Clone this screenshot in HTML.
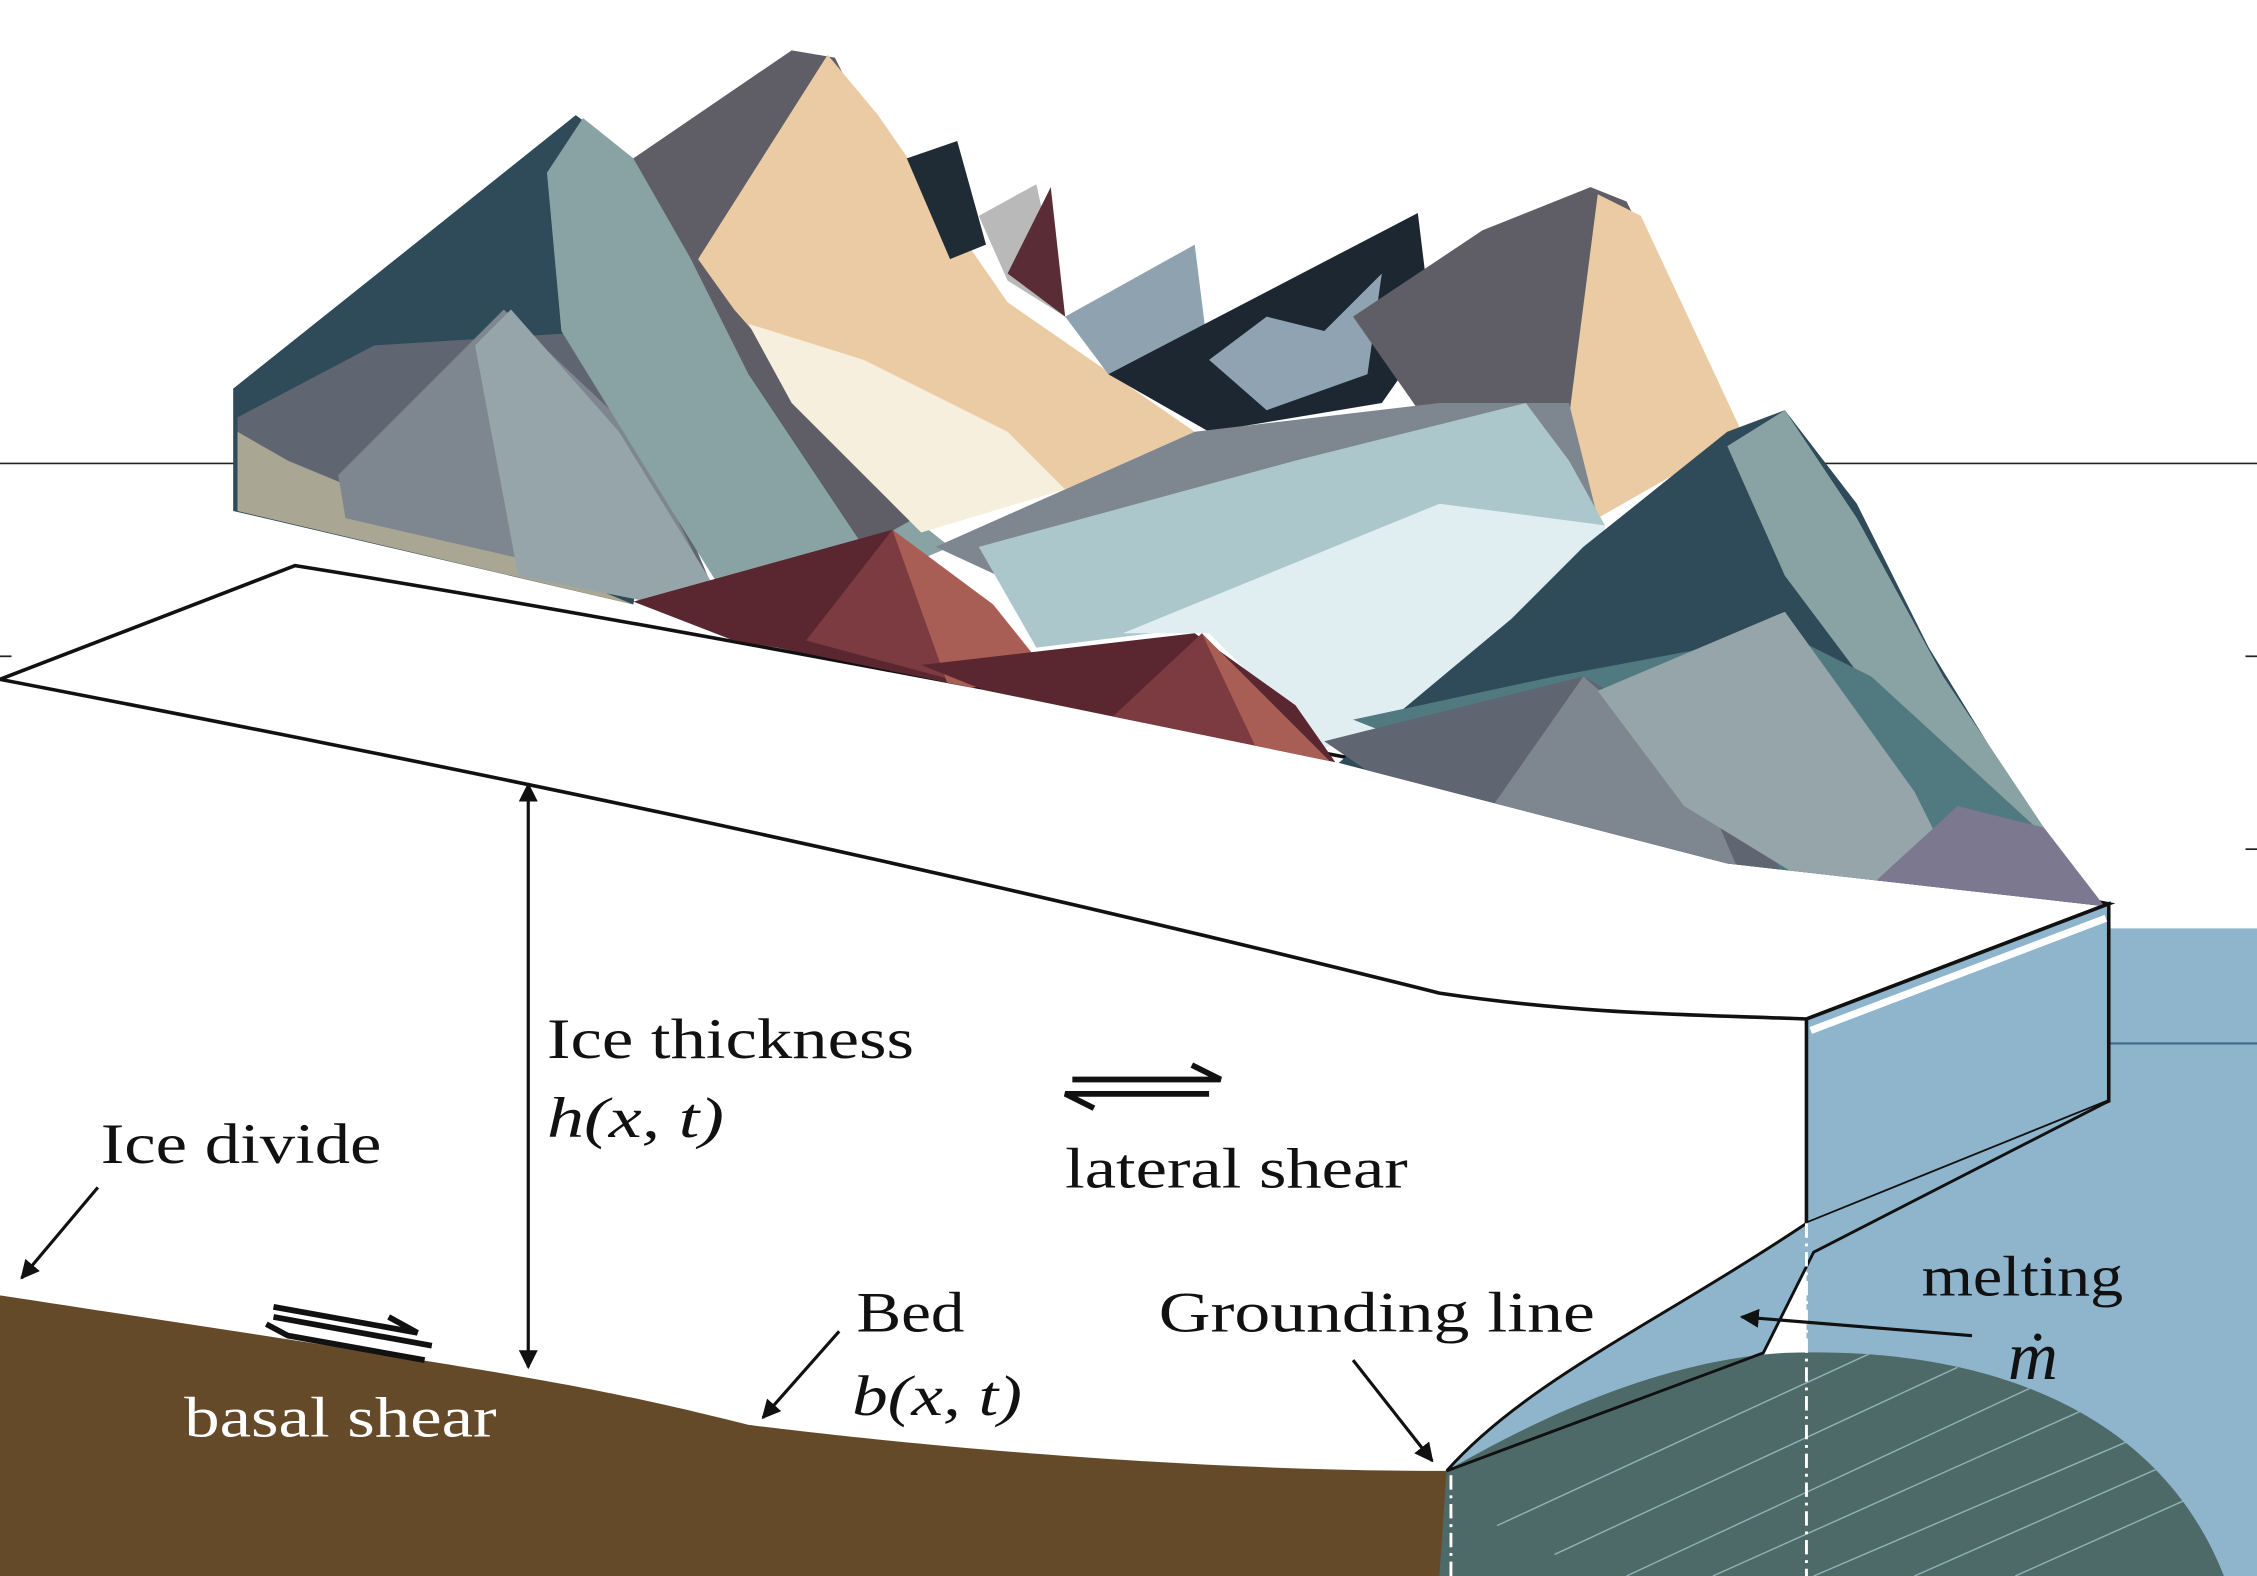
<!DOCTYPE html>
<html><head><meta charset="utf-8"><style>
html,body{margin:0;padding:0;background:#fff;}
svg{display:block;}
text{font-family:"Liberation Serif",serif;}
</style></head><body>
<svg width="2257" height="1576" viewBox="0 0 1568 1095" preserveAspectRatio="none" xmlns="http://www.w3.org/2000/svg">
<defs>
<marker id="ah" viewBox="0 0 10 10" refX="9" refY="5" markerWidth="6" markerHeight="6" orient="auto-start-reverse"><path d="M0,0 L10,5 L0,10 z" fill="#111"/></marker>
<clipPath id="domeclip"><path d="M1005,1022 C1060,990 1150,945 1240,940 C1380,935 1500,980 1545,1095 L1000,1095 Z"/></clipPath>
<clipPath id="mtnclip"><path d="M0,0 L1568,0 L1568,640 L1465,630 L1200,600 L930,530 L540,450 L205,393 L0,393 Z"/></clipPath>
</defs>
<g stroke="#222" stroke-width="1.2">
<line x1="0" y1="322" x2="165" y2="322"/><line x1="1265" y1="322" x2="1568" y2="322"/>
<line x1="0" y1="456" x2="8" y2="456"/><line x1="0" y1="590" x2="8" y2="590"/><line x1="0" y1="725" x2="8" y2="725"/><line x1="0" y1="858" x2="8" y2="858"/><line x1="0" y1="993" x2="8" y2="993"/>
<line x1="1560" y1="456" x2="1568" y2="456"/><line x1="1560" y1="590" x2="1568" y2="590"/><line x1="1560" y1="858" x2="1568" y2="858"/><line x1="1560" y1="993" x2="1568" y2="993"/>
</g>
<path d="M1255,645 L1568,645 L1568,1095 L1255,1095 Z" fill="#8fb5cc"/>
<line x1="1255" y1="725" x2="1568" y2="725" stroke="#3d6a88" stroke-width="1.5"/>
<path d="M0,472 C300,530 600,590 1000,690 C1100,705 1180,705 1255,708 L1255,850 C1150,920 1060,960 1005,1022 C800,1022 600,1000 520,990 C400,960 360,955 0,900 Z" fill="#fff"/>
<path d="M0,472 L205,393 C500,440 900,520 1465,628 L1255,708 C1180,705 1100,705 1000,690 C600,590 300,530 0,472 Z" fill="#fff" stroke="#111" stroke-width="2.5"/>
<g clip-path="url(#mtnclip)">
<path d="M162,270 L300,160 L400,80 L440,110 L480,170 L440,420 L162,355 Z" fill="#2f4a58"/>
<path d="M165,290 L260,240 L420,230 L500,420 L165,355 Z" fill="#606572"/>
<path d="M165,300 L165,355 L440,420 L200,320 Z" fill="#a9a793"/>
<path d="M235,330 L350,215 L440,300 L500,420 L240,360 Z" fill="#7e8790"/>
<path d="M330,240 L355,215 L430,300 L510,430 L360,400 Z" fill="#95a5aa"/>
<path d="M380,120 L405,82 L440,110 L560,300 L660,380 L520,440 L470,360 L390,230 Z" fill="#89a3a4"/>
<path d="M440,110 L550,35 L580,40 L640,160 L760,290 L600,380 L520,260 L480,180 Z" fill="#5f5e66"/>
<path d="M485,180 L575,38 L610,80 L700,210 L830,300 L740,340 L620,340 L510,215 Z" fill="#eacba3"/>
<path d="M520,225 L600,250 L700,300 L740,340 L640,370 L550,280 Z" fill="#f7efdd"/>
<path d="M630,110 L665,98 L685,170 L660,180 Z" fill="#1f2b35"/>
<path d="M680,150 L720,128 L740,220 L700,195 Z" fill="#b9b9ba"/>
<path d="M700,190 L730,130 L740,220 Z" fill="#5a2d36"/>
<path d="M740,220 L830,170 L840,250 L770,260 Z" fill="#8ea2b0"/>
<path d="M770,260 L985,148 L995,230 L960,280 L840,300 Z" fill="#1c2731"/>
<path d="M840,250 L880,220 L920,230 L960,190 L950,260 L880,285 Z" fill="#8fa3b2"/>
<path d="M940,220 L1030,160 L1105,130 L1130,140 L1200,280 L1090,360 L1010,320 Z" fill="#5f5e66"/>
<path d="M1110,135 L1140,150 L1210,300 L1180,320 L1110,360 L1090,290 Z" fill="#eacba3"/>
<path d="M650,380 L830,300 L1000,280 L1090,280 L1110,360 L780,440 Z" fill="#7e8790"/>
<path d="M680,380 L900,320 L1060,280 L1090,320 L1115,365 L880,430 L720,450 Z" fill="#acc7cb"/>
<path d="M780,440 L1000,350 L1115,365 L1120,450 L920,520 L840,440 Z" fill="#e0eef2"/>
<path d="M1100,380 L1200,300 L1240,285 L1290,350 L1340,450 L1420,580 L1470,640 L1200,610 L930,530 L1050,430 Z" fill="#2f4a58"/>
<path d="M1200,310 L1240,285 L1290,360 L1350,470 L1420,575 L1380,590 L1300,480 L1240,400 Z" fill="#89a3a4"/>
<path d="M940,500 L1080,470 L1240,440 L1300,470 L1420,580 L1470,640 L1220,610 Z" fill="#507a80"/>
<path d="M920,515 L1100,470 L1190,520 L1240,610 L1000,570 Z" fill="#606572"/>
<path d="M1030,570 L1100,470 L1180,540 L1210,610 Z" fill="#7e8790"/>
<path d="M1110,480 L1240,425 L1330,550 L1360,610 L1260,615 L1170,560 Z" fill="#95a5aa"/>
<path d="M1360,560 L1420,575 L1470,640 L1300,615 Z" fill="#7b7890"/>
<path d="M440,418 L620,368 L680,420 L730,470 L600,480 Z" fill="#5a2630"/>
<path d="M560,445 L620,368 L680,440 L690,480 Z" fill="#7c3a41"/>
<path d="M620,368 L690,420 L730,470 L660,480 Z" fill="#a95e55"/>
<path d="M640,462 L830,440 L900,490 L935,540 L760,510 Z" fill="#5a2630"/>
<path d="M760,510 L835,440 L900,510 L935,540 Z" fill="#7c3a41"/>
<path d="M835,440 L935,540 L880,535 Z" fill="#a95e55"/>
</g>
<path d="M1255,708 L1465,628 L1465,765 L1255,850 Z" fill="#8fb5cc" stroke="#111" stroke-width="2.5"/>
<path d="M1258,716 L1463,638" stroke="#fff" stroke-width="5"/>
<path d="M1465,765 L1260,870 L1225,940 L1005,1022 C1060,960 1150,920 1255,850" fill="#8fb5cc" stroke="#111" stroke-width="2"/>
<path d="M0,900 C360,955 400,960 520,990 C600,1000 800,1022 1005,1022 C1150,1022 1240,1040 1255,1095 L0,1095 Z" fill="#654a2a"/>
<g clip-path="url(#domeclip)">
<rect x="1000" y="930" width="568" height="170" fill="#4e6a68"/>
<g stroke="#8fb0b5" stroke-width="1">
<line x1="1040" y1="1060" x2="1300" y2="940"/><line x1="1080" y1="1080" x2="1360" y2="950"/><line x1="1130" y1="1095" x2="1420" y2="960"/><line x1="1190" y1="1095" x2="1480" y2="965"/><line x1="1260" y1="1095" x2="1540" y2="975"/><line x1="1330" y1="1095" x2="1568" y2="990"/><line x1="1400" y1="1095" x2="1568" y2="1020"/>
</g></g>
<path d="M1225,940 L1005,1022" stroke="#111" stroke-width="2" fill="none"/>
<g stroke="#fff" stroke-width="2" stroke-dasharray="10,4,2,4">
<line x1="1008" y1="1025" x2="1008" y2="1095"/><line x1="1255" y1="850" x2="1255" y2="1095"/>
</g>
<g stroke="#111" stroke-width="2.2" fill="none">
<line x1="367" y1="545" x2="367" y2="950" marker-start="url(#ah)" marker-end="url(#ah)"/>
<line x1="68" y1="825" x2="15" y2="888" marker-end="url(#ah)"/>
<line x1="583" y1="925" x2="530" y2="985" marker-end="url(#ah)"/>
<line x1="940" y1="945" x2="995" y2="1015" marker-end="url(#ah)"/>
<line x1="1370" y1="928" x2="1210" y2="915" marker-end="url(#ah)"/>
</g>
<g stroke="#111" stroke-width="4" fill="none">
<path d="M760,770 L740,760 L840,760"/><path d="M745,750 L848,750 L828,740"/>
</g>
<g stroke="#111" stroke-width="4" fill="none">
<path d="M190,915 L300,935"/><path d="M185,920 L200,928 L295,945"/><path d="M190,908 L290,926 L270,915"/>
</g>
<g font-size="40" fill="#111">
<text x="380" y="735" textLength="255" lengthAdjust="spacingAndGlyphs">Ice thickness</text>
<text x="380" y="790" font-style="italic" textLength="123" lengthAdjust="spacingAndGlyphs">h(x, t)</text>
<text x="70" y="808" textLength="195" lengthAdjust="spacingAndGlyphs">Ice divide</text>
<text x="740" y="825" textLength="238" lengthAdjust="spacingAndGlyphs">lateral shear</text>
<text x="595" y="925" textLength="75" lengthAdjust="spacingAndGlyphs">Bed</text>
<text x="592" y="983" font-style="italic" textLength="118" lengthAdjust="spacingAndGlyphs">b(x, t)</text>
<text x="805" y="925" textLength="303" lengthAdjust="spacingAndGlyphs">Grounding line</text>
<text x="1335" y="900" textLength="140" lengthAdjust="spacingAndGlyphs">melting</text>
<text x="1395" y="958" font-style="italic" font-size="48">ṁ</text>
<text x="128" y="998" fill="#fff" textLength="217" lengthAdjust="spacingAndGlyphs">basal shear</text>
</g>
</svg>
</body></html>
